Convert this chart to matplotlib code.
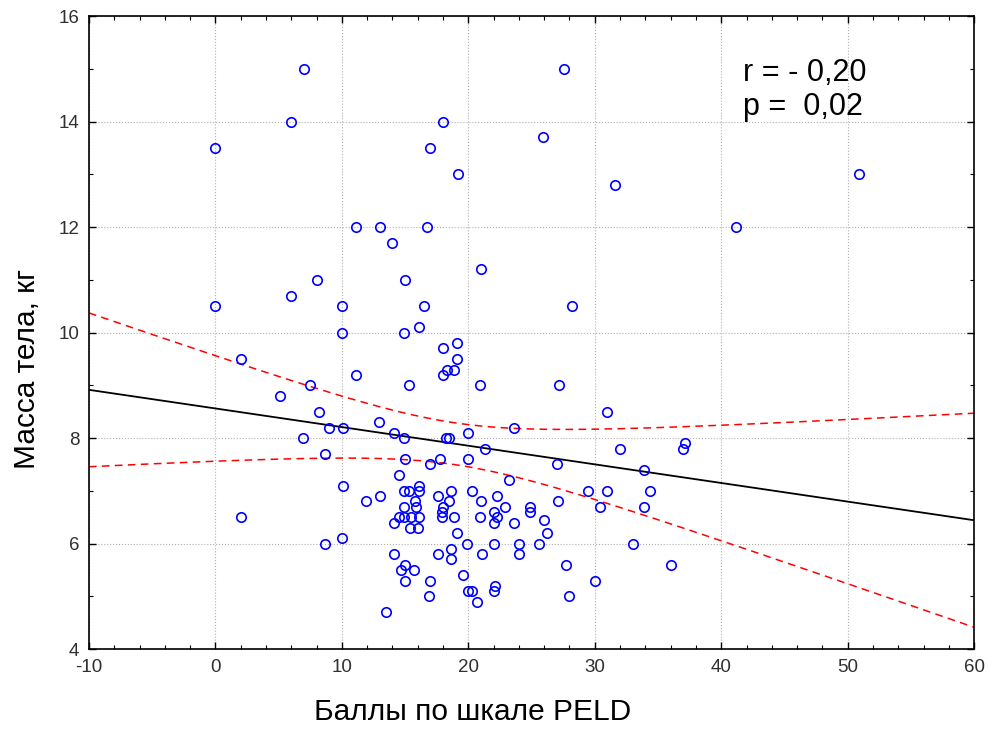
import numpy as np
import matplotlib
matplotlib.use("Agg")
import matplotlib.pyplot as plt
from matplotlib.ticker import MultipleLocator

# PELD score vs body mass
peld = [
    7.0, 27.6, 6.0, 18.0, 0.0, 17.0, 25.9, 19.2, 31.6, 50.9,
    11.1, 13.0, 16.7, 14.0, 41.2, 21.0, 8.0, 15.0, 0.0, 6.0,
    10.0, 16.5, 28.2, 10.0, 14.9, 16.1, 18.0, 19.1, 19.1, 2.0,
    18.3, 18.9, 18.0, 11.1, 7.5, 15.3, 20.9, 27.2, 5.1, 8.2,
    31.0, 12.9, 9.0, 10.1, 23.6, 6.9, 14.1, 14.9, 20.0, 18.2,
    18.5, 21.3, 32.0, 37.0, 37.1, 8.7, 15.0, 17.8, 20.0, 17.0,
    27.0, 33.9, 14.5, 23.2, 10.1, 16.1, 14.9, 15.3, 16.1, 18.6,
    20.3, 29.5, 31.0, 34.4, 13.0, 17.6, 22.3, 11.9, 15.8, 18.5,
    21.0, 27.1, 14.9, 15.9, 18.0, 22.9, 24.9, 30.4, 33.9, 17.9,
    22.0, 24.9, 2.0, 14.5, 14.9, 15.5, 16.1, 17.9, 18.9, 20.9,
    22.3, 14.1, 22.0, 23.6, 26.0, 15.4, 16.0, 19.1, 26.2, 10.0,
    8.7, 19.9, 22.0, 24.0, 25.6, 33.0, 18.6, 14.1, 17.6, 21.1,
    24.0, 18.6, 15.0, 27.7, 36.0, 14.7, 15.7, 19.6, 15.0, 17.0,
    30.0, 22.1, 20.0, 20.3, 22.0, 16.9, 28.0, 20.7, 13.5,
]
mass = [
    15.0, 15.0, 14.0, 14.0, 13.5, 13.5, 13.7, 13.0, 12.8, 13.0,
    12.0, 12.0, 12.0, 11.7, 12.0, 11.2, 11.0, 11.0, 10.5, 10.7,
    10.5, 10.5, 10.5, 10.0, 10.0, 10.1, 9.7, 9.8, 9.5, 9.5,
    9.3, 9.3, 9.2, 9.2, 9.0, 9.0, 9.0, 9.0, 8.8, 8.5,
    8.5, 8.3, 8.2, 8.2, 8.2, 8.0, 8.1, 8.0, 8.1, 8.0,
    8.0, 7.8, 7.8, 7.8, 7.9, 7.7, 7.6, 7.6, 7.6, 7.5,
    7.5, 7.4, 7.3, 7.2, 7.1, 7.1, 7.0, 7.0, 7.0, 7.0,
    7.0, 7.0, 7.0, 7.0, 6.9, 6.9, 6.9, 6.8, 6.8, 6.8,
    6.8, 6.8, 6.7, 6.7, 6.7, 6.7, 6.7, 6.7, 6.7, 6.6,
    6.6, 6.6, 6.5, 6.5, 6.5, 6.5, 6.5, 6.5, 6.5, 6.5,
    6.5, 6.4, 6.4, 6.4, 6.45, 6.3, 6.3, 6.2, 6.2, 6.1,
    6.0, 6.0, 6.0, 6.0, 6.0, 6.0, 5.9, 5.8, 5.8, 5.8,
    5.8, 5.7, 5.6, 5.6, 5.6, 5.5, 5.5, 5.4, 5.3, 5.3,
    5.3, 5.2, 5.1, 5.1, 5.1, 5.0, 5.0, 4.9, 4.7,
]
x_ticks = [-10, 0, 10, 20, 30, 40, 50, 60]
y_ticks = [4, 6, 8, 10, 12, 14, 16]
stats_text = "r = - 0,20\np =  0,02"

plt.rcParams["font.family"] = ["Liberation Sans", "DejaVu Sans"]
plt.rcParams["axes.unicode_minus"] = False

x = np.array(peld)
y = np.array(mass)
n = len(x)

# linear fit + 95% confidence band for the mean
slope, intercept = np.polyfit(x, y, 1)
resid = y - (intercept + slope * x)
s = np.sqrt(np.sum(resid ** 2) / (n - 2))
sxx = np.sum((x - x.mean()) ** 2)
t_crit = 1.977  # t(0.975, n-2) for n ~ 140
xf = np.linspace(x_ticks[0], x_ticks[-1], 200)
yf = intercept + slope * xf
half = t_crit * s * np.sqrt(1.0 / n + (xf - x.mean()) ** 2 / sxx)

fig = plt.figure(figsize=(9.88, 7.31), dpi=100)
ax = fig.add_axes([0.090, 0.112, 0.896, 0.866])

ax.plot(x, y, "o", ms=6.8, mfc="none", mec="#0000ff", mew=1.2, zorder=3)
ax.plot(xf, yf, color="black", lw=1.3, zorder=2)
ax.plot(xf, yf + half, color="red", lw=1.1, ls=(0, (5, 3.5)), zorder=2)
ax.plot(xf, yf - half, color="red", lw=1.1, ls=(0, (5, 3.5)), zorder=2)

ax.set_xlim(x_ticks[0], x_ticks[-1])
ax.set_ylim(y_ticks[0], y_ticks[-1])
ax.set_xticks(x_ticks)
ax.set_yticks(y_ticks)
ax.xaxis.set_minor_locator(MultipleLocator(2))
ax.yaxis.set_minor_locator(MultipleLocator(1))
ax.tick_params(which="both", direction="in", top=True, right=True,
               labelsize=13.5, labelcolor="#303030", pad=7)
ax.tick_params(which="major", length=5, width=1.0)
ax.tick_params(which="minor", length=3, width=0.8)
for sp in ax.spines.values():
    sp.set_linewidth(1.2)
ax.grid(True, which="major", color="#b0b0b0", ls=":", lw=0.8)

ax.set_xlabel("Баллы по шкале PELD", fontsize=21.5, va="center")
ax.xaxis.set_label_coords(0.433, -0.0995)
ax.set_ylabel("Масса тела, кг", fontsize=21.5, va="center")
ax.yaxis.set_label_coords(-0.070, 0.442)

ax.text(41.7, 14.6, stats_text, fontsize=22, ha="left", va="center",
        linespacing=1.2)

fig.savefig("out.png", dpi=100)
